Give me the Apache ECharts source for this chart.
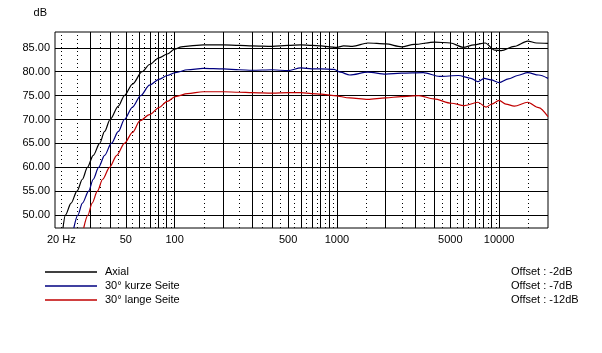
<!DOCTYPE html>
<html>
<head>
<meta charset="utf-8">
<script src="https://cdn.jsdelivr.net/npm/echarts@6.0.0/dist/echarts.min.js"></script>
<style>
  html, body { margin: 0; background: #fff; }
  #main { width: 602px; height: 353px; }
</style>
</head>
<body>
<div id="main"></div>
<script>
// Frequenzgang, Werte
const seriesNames = ['Axial', '30° kurze Seite', '30° lange Seite']
const seriesColors = ['#000000', '#000080', '#c00000']
const offsets = ['-2dB', '-7dB', '-12dB']

const freqAxial = [20.5, 21.2, 23, 25, 27, 29, 31.5, 34.5, 37, 40, 45, 49, 55, 63, 70, 80, 90, 100, 110, 125, 150, 200, 250, 300, 400, 500, 600, 700, 800, 900, 1000, 1100, 1250, 1550, 2000, 2500, 3000, 4000, 5000, 6000, 7000, 8200, 9400, 10300, 12400, 15000, 17000, 20000]
const dbAxial = [47.3, 50, 52.5, 55, 57.5, 60, 62.5, 65, 67.5, 70, 72.8, 75, 77.4, 80, 81.5, 82.9, 83.7, 84.7, 85.2, 85.4, 85.6, 85.6, 85.5, 85.4, 85.3, 85.5, 85.6, 85.5, 85.4, 85.2, 85.1, 85.4, 85.3, 86.0, 85.8, 85.2, 85.7, 86.2, 86.0, 85.1, 85.6, 86.0, 84.5, 84.4, 85.3, 86.4, 86.0, 85.9]

const freqKurz = [23.9, 25.3, 27, 29.5, 31.5, 34, 37, 40.7, 45, 49, 55, 61.7, 70, 80, 90, 101, 120, 150, 200, 250, 300, 400, 500, 600, 700, 800, 960, 1050, 1200, 1550, 2000, 2500, 3400, 4300, 5600, 6700, 7400, 8100, 8900, 10000, 11400, 13000, 15000, 17500, 20000]
const dbKurz = [47.3, 50, 52.5, 55, 57.5, 60, 62.5, 65, 67.5, 70, 72.6, 75, 77.2, 78.4, 79.2, 79.8, 80.4, 80.7, 80.6, 80.4, 80.3, 80.4, 80.2, 80.8, 80.6, 80.6, 80.5, 79.9, 79.3, 79.9, 79.5, 79.7, 79.8, 79.0, 79.2, 78.6, 77.9, 78.6, 78.3, 77.7, 78.5, 79.2, 79.8, 79.3, 78.6]

const freqLang = [27.5, 29.2, 31, 33.4, 36, 39.7, 44, 49, 55, 61, 70, 80, 90, 101, 120, 150, 200, 250, 300, 400, 500, 600, 700, 800, 960, 1200, 1550, 2000, 2480, 3200, 3960, 5080, 6080, 7400, 8300, 9000, 10000, 11000, 12400, 15000, 17500, 20000]
const dbLang = [47.3, 50, 52.5, 55, 57.5, 60, 62.5, 65, 67.3, 69.7, 71.0, 72.5, 73.8, 74.8, 75.4, 75.8, 75.8, 75.7, 75.6, 75.5, 75.6, 75.6, 75.4, 75.3, 75.0, 74.5, 74.2, 74.5, 74.8, 75.0, 74.3, 73.4, 72.9, 73.6, 72.6, 73.2, 74.0, 73.2, 72.8, 73.6, 72.5, 70.6]

// Achsen und Raster
const xLabelFreqs = [20, 50, 100, 500, 1000, 5000, 10000]
const xLabelTexts = ['20 Hz', '50', '100', '500', '1000', '5000', '10000']
const yTicks = [50, 55, 60, 65, 70, 75, 80, 85]
const solidLines = [30, 40, 50, 60, 70, 80, 90, 100, 200, 300, 400, 500, 600, 700, 800, 900, 1000, 2000, 3000, 4000, 5000, 6000, 7000, 8000, 9000, 10000]
const dottedLines = [20, 25, 35, 45, 55, 65, 75, 85, 95, 150, 250, 350, 450, 550, 650, 750, 850, 950, 1500, 2500, 3500, 4500, 5500, 6500, 7500, 8500, 9500, 15000]

const lg = v => Math.log10(v)
const toPairs = (f, d) => f.map((x, i) => [lg(x), d[i]])
const font = 'Liberation Sans'

const chart = echarts.init(document.getElementById('main'))

function curve(name, color, data) {
  return {
    name: name,
    type: 'line',
    data: data,
    symbol: 'none',
    smooth: 0.3,
    smoothMonotone: 'x',
    clip: true,
    z: 10,
    lineStyle: { color: color, width: 1.2 },
    itemStyle: { color: color }
  }
}

function gridLines(items, type) {
  return {
    type: 'line',
    data: [],
    silent: true,
    z: 1,
    markLine: {
      z: 1,
      symbol: 'none',
      silent: true,
      animation: false,
      label: { show: false },
      emphasis: { disabled: true },
      lineStyle: { color: '#000', width: 1, type: type },
      data: items
    }
  }
}

const option = {
  animation: false,
  textStyle: { fontFamily: font },
  grid: {
    left: 55, right: 54, top: 32, bottom: 125,
    show: true, borderColor: '#000', borderWidth: 1, backgroundColor: '#fff'
  },
  xAxis: {
    type: 'value',
    min: lg(18.3),
    max: lg(20000),
    axisLine: { show: false },
    axisTick: { show: false },
    splitLine: { show: false },
    axisLabel: {
      customValues: xLabelFreqs.map(lg),
      color: '#000',
      fontSize: 11,
      fontFamily: font,
      margin: 6,
      formatter: function(v) {
        let best = 0
        xLabelFreqs.forEach((f, i) => {
          if (Math.abs(lg(f) - v) < Math.abs(lg(xLabelFreqs[best]) - v)) best = i
        })
        return xLabelTexts[best]
      }
    }
  },
  yAxis: {
    type: 'value',
    min: 47.3,
    max: 88.3,
    name: 'dB',
    nameGap: 14,
    nameTextStyle: { color: '#000', fontSize: 11, fontFamily: font, align: 'right', padding: [0, 8, 0, 0] },
    axisLine: { show: false },
    axisTick: { show: false },
    splitLine: { show: false },
    axisLabel: {
      customValues: yTicks,
      color: '#000',
      fontSize: 11,
      fontFamily: font,
      margin: 5,
      formatter: v => v.toFixed(2)
    }
  },
  legend: {
    data: seriesNames,
    orient: 'vertical',
    left: 45,
    top: 266,
    padding: 0,
    itemWidth: 52,
    itemHeight: 1.5,
    itemGap: 2,
    icon: 'rect',
    selectedMode: false,
    textStyle: { color: '#000', fontSize: 11, fontFamily: font, lineHeight: 12, padding: [0, 0, 0, 3] }
  },
  graphic: offsets.map((t, i) => ({
    type: 'text',
    left: 511,
    top: 266 + i * 14,
    style: { text: 'Offset : ' + t, fontSize: 11, fontFamily: font, fill: '#000' }
  })),
  series: [
    gridLines(solidLines.map(f => ({ xAxis: lg(f) })).concat(yTicks.map(v => ({ yAxis: v }))), 'solid'),
    gridLines(dottedLines.map(f => ({ xAxis: lg(f) })), [1, 3]),
    curve(seriesNames[0], seriesColors[0], toPairs(freqAxial, dbAxial)),
    curve(seriesNames[1], seriesColors[1], toPairs(freqKurz, dbKurz)),
    curve(seriesNames[2], seriesColors[2], toPairs(freqLang, dbLang))
  ]
}

chart.setOption(option)
</script>
</body>
</html>
